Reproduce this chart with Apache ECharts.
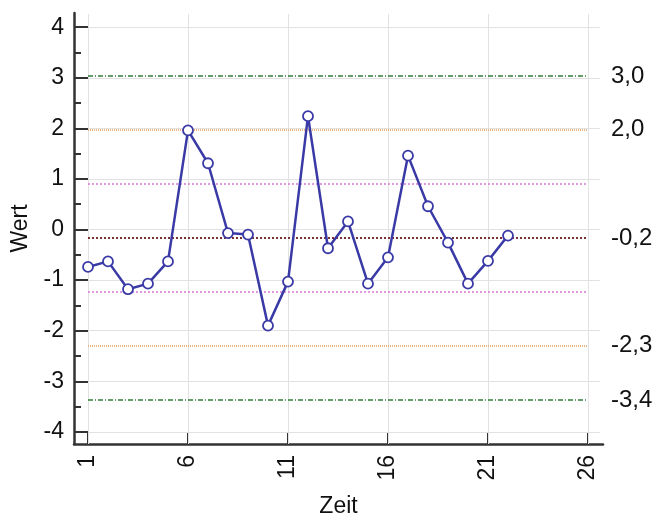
<!DOCTYPE html>
<html><head><meta charset="utf-8">
<script src="https://cdn.jsdelivr.net/npm/echarts@6/dist/echarts.min.js"></script>
<style>html,body{margin:0;padding:0;background:#fff}#c{width:658px;height:519px}</style>
</head><body><div id="c"></div>
<script>
const zeit = [1,2,3,4,5,6,7,8,9,10,11,12,13,14,15,16,17,18,19,20,21,22];
const wert = [-0.74,-0.63,-1.18,-1.07,-0.63,1.96,1.31,-0.07,-0.10,-1.90,-1.03,2.24,-0.37,0.16,-1.07,-0.55,1.46,0.46,-0.26,-1.07,-0.62,-0.12];
const xTicks = [1,6,11,16,21,26];
const yTicks = [-4,-3,-2,-1,0,1,2,3,4];
const yMinorTicks = [-4,-3.5,-3,-2.5,-2,-1.5,-1,-0.5,0,0.5,1,1.5,2,2.5,3,3.5,4];
const ucl = 3.03, lcl = -3.37;
const upper2 = 1.97, lower2 = -2.30;
const upper1 = 0.90, lower1 = -1.24;
const center = -0.17;
const rightLabels = [ucl, upper2, center, lower2, lcl];
const xStart = 1, xEnd = 26;

const font = 'Liberation Sans, Arial, sans-serif';
const chart = echarts.init(document.getElementById('c'), null, {renderer:'canvas'});

function hline(v, style){
  return [{coord:[xStart, v], lineStyle:style}, {coord:[xEnd, v]}];
}
const gridStyle = {color:'#e2e2e2', width:1, type:'solid'};
const gridLines = [];
yTicks.forEach(v => gridLines.push([{coord:[xStart, v], lineStyle:gridStyle},{coord:[26.6, v]}]));
xTicks.forEach(v => gridLines.push([{coord:[v, 4.26], lineStyle:gridStyle},{coord:[v, -4.24]}]));

const greenStyle = {color:'#2f7d3a', width:1.6, type:[5,2,1,2]};
const orangeStyle = {color:'#e6a466', width:1.6, type:[1,1]};
const pinkStyle = {color:'#d77ad7', width:1.5, type:[2,2]};
const centerStyle = {color:'#7a3030', width:2, type:[2,2]};

chart.setOption({
  animation:false,
  grid:{left:74, right:55, top:13, bottom:75, containLabel:false, outerBoundsMode:'none'},
  xAxis:{
    type:'value', min:0.3, max:26.75,
    name:'Zeit', nameLocation:'middle', nameGap:51,
    nameTextStyle:{fontFamily:font, fontSize:23, color:'#111'},
    axisLine:{show:true, onZero:false, lineStyle:{color:'#333', width:2.5}},
    axisTick:{show:true, inside:true, length:11, customValues:xTicks, lineStyle:{color:'#333', width:2}},
    axisLabel:{show:true, customValues:xTicks, rotate:90, margin:11, fontFamily:font, fontSize:23, color:'#111'},
    splitLine:{show:false}
  },
  yAxis:[{
    type:'value', min:-4.24, max:4.28, position:'left',
    name:'Wert', nameLocation:'middle', nameGap:40, nameRotate:90,
    nameTextStyle:{fontFamily:font, fontSize:23, color:'#111'},
    axisLine:{show:true, onZero:false, lineStyle:{color:'#333', width:2.5}},
    axisTick:{show:true, inside:true, length:14, customValues:yTicks, lineStyle:{color:'#333', width:2}},
    axisLabel:{show:true, customValues:yTicks, margin:10, fontFamily:font, fontSize:23, color:'#111'},
    splitLine:{show:false}
  },{
    type:'value', min:-4.24, max:4.28, position:'left',
    axisLine:{show:false},
    axisTick:{show:true, inside:true, length:7, customValues:yMinorTicks, lineStyle:{color:'#333', width:2}},
    axisLabel:{show:false},
    splitLine:{show:false}
  },{
    type:'value', min:-4.24, max:4.28, position:'right',
    axisLine:{show:false},
    axisTick:{show:false},
    axisLabel:{show:true, customValues:rightLabels, margin:8, fontFamily:font, fontSize:24, color:'#111',
      formatter:v => v.toFixed(1).replace('.', ',')},
    splitLine:{show:false}
  }],
  series:[
    {type:'line', data:[], silent:true, z:1,
     markLine:{symbol:'none', silent:true, animation:false, label:{show:false}, data:gridLines}},
    {type:'line', data:[], silent:true, z:2,
     markLine:{symbol:'none', silent:true, animation:false, label:{show:false}, data:[
       hline(ucl, greenStyle), hline(lcl, greenStyle),
       hline(upper2, orangeStyle), hline(lower2, orangeStyle),
       hline(upper1, pinkStyle), hline(lower1, pinkStyle),
       hline(center, centerStyle)
     ]}},
    {type:'line', z:5, data:zeit.map((x,i)=>[x, wert[i]]),
     symbol:'circle', symbolSize:10, showAllSymbol:true,
     lineStyle:{color:'#3a3aa6', width:2.5},
     itemStyle:{color:'#ffffff', borderColor:'#3a3aa6', borderWidth:1.8}}
  ]
});
</script></body></html>
